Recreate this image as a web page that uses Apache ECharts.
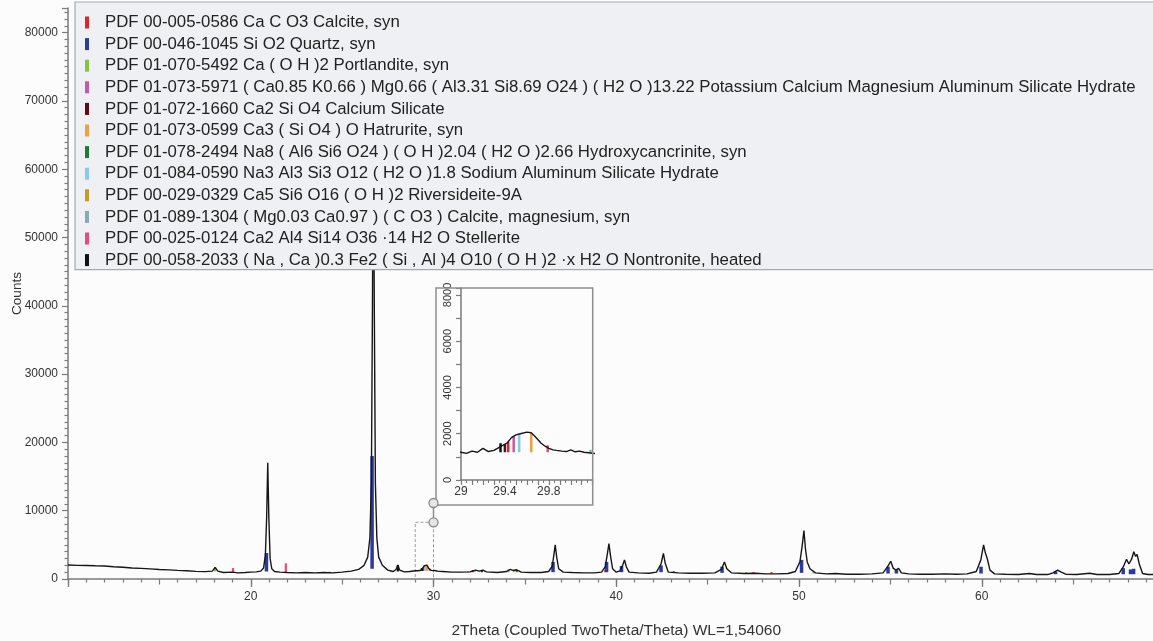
<!DOCTYPE html>
<html><head><meta charset="utf-8">
<script src="https://cdn.jsdelivr.net/npm/echarts@6/dist/echarts.min.js"></script>
<style>html,body{margin:0;padding:0;background:#fcfcfc;}#c{width:1153px;height:641px;}</style>
</head><body><div id="c"></div>
<script>
// ---- measured pattern (2Theta, Counts) ----
const twoTheta = [10.0,10.5,11.0,11.5,12.0,12.5,13.0,13.5,14.0,14.5,15.0,15.5,16.0,16.5,17.0,17.5,17.9,18.05,18.2,18.5,19.0,19.3,19.7,20.0,20.3,20.55,20.7,20.8,20.87,20.93,20.99,21.06,21.15,21.3,21.6,22.0,22.5,23.0,23.5,24.0,24.5,25.0,25.5,25.9,26.2,26.4,26.52,26.6,26.66,26.71,26.76,26.82,26.9,27.0,27.2,27.5,27.8,27.95,28.05,28.15,28.4,28.7,29.0,29.05,29.1,29.15,29.2,29.25,29.3,29.36,29.42,29.46,29.5,29.54,29.6,29.64,29.67,29.7,29.73,29.77,29.8,29.84,29.87,29.92,29.96,30.0,30.04,30.08,30.12,30.16,30.2,30.5,31.0,31.5,32.0,32.3,32.5,32.7,32.9,33.5,34.0,34.2,34.35,34.55,34.8,35.3,35.9,36.3,36.5,36.6,36.66,36.74,36.85,37.1,37.6,38.2,38.8,39.2,39.4,39.52,39.6,39.68,39.8,40.0,40.2,40.35,40.45,40.55,40.7,41.2,41.8,42.2,42.45,42.58,42.68,42.85,43.4,44.0,44.7,45.4,45.75,45.92,46.05,46.3,47.0,47.6,48.2,48.8,49.4,49.8,50.05,50.18,50.27,50.35,50.45,50.6,50.9,51.5,52.0,52.6,53.3,54.0,54.6,54.85,55.02,55.15,55.3,55.45,55.6,56.0,56.6,57.3,58.0,58.6,59.2,59.7,59.95,60.1,60.2,60.3,60.45,60.7,61.3,62.0,62.6,63.0,63.6,63.9,64.15,64.35,64.6,65.2,65.9,66.3,67.0,67.5,67.75,67.92,68.05,68.2,68.32,68.42,68.5,68.62,68.8,69.1,69.5];
const counts = [2050,2000,1980,1930,1900,1800,1720,1620,1560,1480,1400,1330,1260,1200,1120,1080,1150,1700,1150,950,1000,900,950,1000,1050,1150,1600,3500,9000,17000,9000,3000,1500,1100,1000,950,900,950,900,950,900,1000,1150,1400,2000,3200,6000,14000,40000,70000,40000,14000,6000,3200,2000,1300,1100,1400,2050,1300,1050,1100,1200,1150,1250,1200,1370,1230,1280,1440,1600,1830,1950,2000,2070,2040,1900,1750,1590,1450,1370,1300,1280,1250,1230,1300,1220,1250,1200,1180,1150,1100,1000,1000,1050,1300,1150,1300,1050,950,1100,1400,1250,1350,1000,950,950,1100,1900,3800,5000,3200,1500,1000,950,900,900,1000,1800,3800,5200,3500,1500,1000,1200,2000,2800,1800,1000,900,850,1000,2200,3750,2300,1000,900,850,850,900,1400,2500,1500,900,800,850,750,750,800,1100,2500,5000,7100,4500,2500,1500,900,750,800,700,700,750,900,1800,2600,1600,1300,1560,900,750,700,700,750,700,750,1100,2800,5000,3800,3000,1300,750,700,650,800,650,650,900,1300,1000,700,650,850,650,650,800,1800,2900,2200,2900,4000,3300,3600,2200,800,650,650];

// ---- reference patterns: [2Theta, base, top] ----
const stickCalcite = [[29.43,1200,1650],[39.40,1000,1300],[43.15,900,1150],[47.50,800,1000],[48.50,800,1000]];
const stickQuartz = [[20.86,1100,3800],[26.64,1500,18000],[36.54,1000,2500],[39.47,1000,2500],[40.29,1000,1900],[42.45,1000,2000],[45.79,900,1800],[50.14,900,2800],[54.87,800,1800],[55.33,800,1300],[59.96,800,1800],[64.04,700,1100],[67.74,700,1600],[68.14,700,1400],[68.31,700,1500]];
const stickPortlandite = [[18.05,1100,1700],[34.10,1000,1400],[47.10,800,1000],[50.80,800,1000]];
const stickKCaMgAl = [[29.48,1200,1900],[27.70,1000,1150]];
const stickCaSilicate = [[29.40,1200,1560],[32.15,1000,1300],[32.65,1000,1250]];
const stickHatrurite = [[29.64,1200,2020],[32.25,1000,1200],[34.40,1000,1300]];
const stickHydroxycancrinite = [[24.30,900,1050],[34.55,1000,1350]];
const stickNaAlSilicate = [[29.53,1200,2000],[24.60,900,1050]];
const stickRiversideite = [[31.90,1000,1150]];
const stickCalciteMg = [[30.18,1150,1300]];
const stickStellerite = [[19.03,950,1600],[21.92,950,2300],[29.79,1200,1500]];
const stickNontronite = [[28.05,1100,2050],[29.36,1200,1590]];

const phaseNames = [
 'PDF 00-005-0586 Ca C O3 Calcite, syn',
 'PDF 00-046-1045 Si O2 Quartz, syn',
 'PDF 01-070-5492 Ca ( O H )2 Portlandite, syn',
 'PDF 01-073-5971 ( Ca0.85 K0.66 ) Mg0.66 ( Al3.31 Si8.69 O24 ) ( H2 O )13.22 Potassium Calcium Magnesium Aluminum Silicate Hydrate',
 'PDF 01-072-1660 Ca2 Si O4 Calcium Silicate',
 'PDF 01-073-0599 Ca3 ( Si O4 ) O Hatrurite, syn',
 'PDF 01-078-2494 Na8 ( Al6 Si6 O24 ) ( O H )2.04 ( H2 O )2.66 Hydroxycancrinite, syn',
 'PDF 01-084-0590 Na3 Al3 Si3 O12 ( H2 O )1.8 Sodium Aluminum Silicate Hydrate',
 'PDF 00-029-0329 Ca5 Si6 O16 ( O H )2 Riversideite-9A',
 'PDF 01-089-1304 ( Mg0.03 Ca0.97 ) ( C O3 ) Calcite, magnesium, syn',
 'PDF 00-025-0124 Ca2 Al4 Si14 O36 \u00b714 H2 O Stellerite',
 'PDF 00-058-2033 ( Na , Ca )0.3 Fe2 ( Si , Al )4 O10 ( O H )2 \u00b7x H2 O Nontronite, heated'
];
const phaseSticks = [stickCalcite, stickQuartz, stickPortlandite, stickKCaMgAl, stickCaSilicate, stickHatrurite,
  stickHydroxycancrinite, stickNaAlSilicate, stickRiversideite, stickCalciteMg, stickStellerite, stickNontronite];

const xTitle = '2Theta (Coupled TwoTheta/Theta) WL=1,54060';
const yTitle = 'Counts';
const zoomRange = [29, 30.2];
const zoomBoxRight = 30;
const zoomCountsMax = 8300;

// ---- styles ----
const phaseColors = ['#e0232b','#2b3a9c','#86c24a','#c25aa6','#5c0a14','#f0a040','#1f7a35','#86c8ee','#c49a2c','#86aab2','#ea4a78','#111111'];
const FONT = 'Liberation Sans, Arial, sans-serif';
const AX = '#7a7a7a';

function stickRender(w) {
  return function (params, api) {
    const p0 = api.coord([api.value(0), api.value(1)]);
    const p1 = api.coord([api.value(0), api.value(2)]);
    return {type: 'line', shape: {x1: p0[0], y1: p0[1], x2: p1[0], y2: p1[1]},
      style: {stroke: api.visual('color'), lineWidth: w}};
  };
}

const pattern = twoTheta.map((x, i) => [x, counts[i]]);
const series = [];
phaseSticks.forEach((arr, i) => {
  series.push({type: 'custom', name: phaseNames[i], xAxisIndex: 0, yAxisIndex: 0, z: 2, clip: true,
    itemStyle: {color: phaseColors[i]}, renderItem: stickRender(i === 1 ? 3.5 : 2.2),
    encode: {x: 0, y: [1, 2]}, data: arr, silent: true});
});
series.push({type: 'line', name: 'Measured', xAxisIndex: 0, yAxisIndex: 0, z: 3, data: pattern,
  showSymbol: false, lineStyle: {color: '#161616', width: 1.4}, itemStyle: {color: '#161616'}, silent: true,
  markArea: {silent: true, itemStyle: {color: 'rgba(0,0,0,0)', borderColor: '#9a9a9a', borderWidth: 1, borderType: [3, 2]},
    data: [[{coord: [zoomRange[0], 0]}, {coord: [zoomBoxRight, zoomCountsMax]}]]}});
phaseSticks.forEach((arr, i) => {
  series.push({type: 'custom', name: phaseNames[i], xAxisIndex: 1, yAxisIndex: 1, z: 2, clip: true,
    itemStyle: {color: phaseColors[i]}, renderItem: stickRender(2.5),
    encode: {x: 0, y: [1, 2]}, data: arr, silent: true});
});
series.push({type: 'line', name: 'MeasuredZoom', xAxisIndex: 1, yAxisIndex: 1, z: 3, data: pattern, clip: true,
  showSymbol: false, lineStyle: {color: '#161616', width: 1.4}, silent: true});

const INSET = {left: 461, top: 288, width: 131.7, height: 192};
const plain = v => String(v);

const chart = echarts.init(document.getElementById('c'), null, {renderer: 'canvas'});
chart.setOption({
  animation: false,
  backgroundColor: '#fcfcfc',
  textStyle: {fontFamily: FONT},
  legend: {
    data: phaseNames.map(n => ({name: n, icon: 'rect'})),
    orient: 'vertical', left: 75, top: 2, selectedMode: false,
    itemWidth: 4, itemHeight: 12, itemGap: 4.6,
    padding: [12, 40, 1, 10],
    backgroundColor: '#eef0f3', borderColor: '#a3aab2', borderWidth: 1.2,
    textStyle: {fontFamily: FONT, fontSize: 16.8, color: '#222', lineHeight: 16, padding: [0, 0, 0, 11]}
  },
  grid: [
    {left: 68, right: -11.5, top: 8, bottom: 62, containLabel: false, outerBoundsMode: 'none'},
    {left: INSET.left, top: INSET.top, width: INSET.width, height: INSET.height, containLabel: false, outerBoundsMode: 'none'}
  ],
  xAxis: [
    {type: 'value', gridIndex: 0, min: 10, max: 70, interval: 5,
     name: xTitle, nameLocation: 'middle', nameGap: 44, nameMoveOverlap: false,
     nameTextStyle: {fontFamily: FONT, fontSize: 15.5, color: '#333'},
     axisLine: {onZero: false, lineStyle: {color: AX, width: 1.5}},
     axisTick: {length: 5.5, lineStyle: {color: AX, width: 1.2}},
     minorTick: {show: true, splitNumber: 5, length: 3.5, lineStyle: {color: AX, width: 1.2}},
     splitLine: {show: false},
     axisLabel: {margin: 12, fontSize: 12, color: '#333', fontFamily: FONT, hideOverlap: false,
       formatter: v => (v % 10 === 0 && v !== 10) ? String(v) : ''}},
    {type: 'value', gridIndex: 1, min: zoomRange[0], max: zoomRange[1], interval: 0.1,
     axisLine: {onZero: false, lineStyle: {color: AX, width: 1.5}},
     axisTick: {length: 5, lineStyle: {color: AX, width: 1.2}},
     minorTick: {show: true, splitNumber: 2, length: 3, lineStyle: {color: AX, width: 1}},
     splitLine: {show: false},
     axisLabel: {margin: 6, fontSize: 12, color: '#333', fontFamily: FONT, showMaxLabel: false,
       formatter: v => { const r = Math.round(v * 10) / 10; return (Math.abs(r - 29) < 1e-6 || Math.abs(r - 29.4) < 1e-6 || Math.abs(r - 29.8) < 1e-6) ? String(r) : ''; }}},
    {type: 'value', gridIndex: 0, min: 10, max: 70, interval: 10, position: 'bottom',
     axisLine: {show: false}, axisLabel: {show: false}, splitLine: {show: false},
     axisTick: {show: true, length: 8, lineStyle: {color: AX, width: 1.3}}}
  ],
  yAxis: [
    {type: 'value', gridIndex: 0, min: 0, max: 83600, interval: 10000,
     name: yTitle, nameLocation: 'middle', nameGap: 44, nameMoveOverlap: false,
     nameTextStyle: {fontFamily: FONT, fontSize: 13.5, color: '#333'},
     axisLine: {show: true, lineStyle: {color: AX, width: 1.5}},
     axisTick: {show: true, length: 6, lineStyle: {color: AX, width: 1.2}},
     minorTick: {show: true, splitNumber: 10, length: 3.5, lineStyle: {color: AX, width: 1.2}},
     splitLine: {show: false},
     axisLabel: {margin: 10, fontSize: 12, color: '#333', fontFamily: FONT, showMaxLabel: false, formatter: plain}},
    {type: 'value', gridIndex: 1, min: 0, max: zoomCountsMax, interval: 2000,
     axisLine: {show: true, lineStyle: {color: AX, width: 1.5}},
     axisTick: {show: true, length: 5, lineStyle: {color: AX, width: 1.2}},
     minorTick: {show: true, splitNumber: 2, length: 5, lineStyle: {color: AX, width: 1.2}},
     splitLine: {show: false},
     axisLabel: {margin: 8, fontSize: 11, color: '#333', fontFamily: FONT, rotate: 90, showMaxLabel: false, formatter: plain}}
  ],
  series: series
});

// inset frame and connector (decorations placed from the axes' own scales)
const corner = chart.convertToPixel({gridIndex: 0}, [zoomBoxRight, zoomCountsMax]);
const frameLeft = INSET.left - 25, frameBottom = INSET.top + INSET.height + 25;
chart.setOption({
  graphic: [
    {type: 'rect', z: 10, shape: {x: frameLeft, y: INSET.top, width: INSET.left + INSET.width - frameLeft, height: frameBottom - INSET.top},
     style: {fill: 'none', stroke: '#8e8e8e', lineWidth: 1.5}, silent: true},
    {type: 'line', z: 11, shape: {x1: corner[0], y1: corner[1], x2: corner[0], y2: frameBottom - 2},
     style: {stroke: '#8e8e8e', lineWidth: 1.5}, silent: true},
    {type: 'circle', z: 12, shape: {cx: corner[0], cy: corner[1], r: 4.5}, style: {fill: '#e6e6e6', stroke: '#8a8a8a', lineWidth: 1.3}, silent: true},
    {type: 'circle', z: 12, shape: {cx: corner[0], cy: frameBottom - 2, r: 4.5}, style: {fill: '#e6e6e6', stroke: '#8a8a8a', lineWidth: 1.3}, silent: true}
  ]
});
</script></body></html>
